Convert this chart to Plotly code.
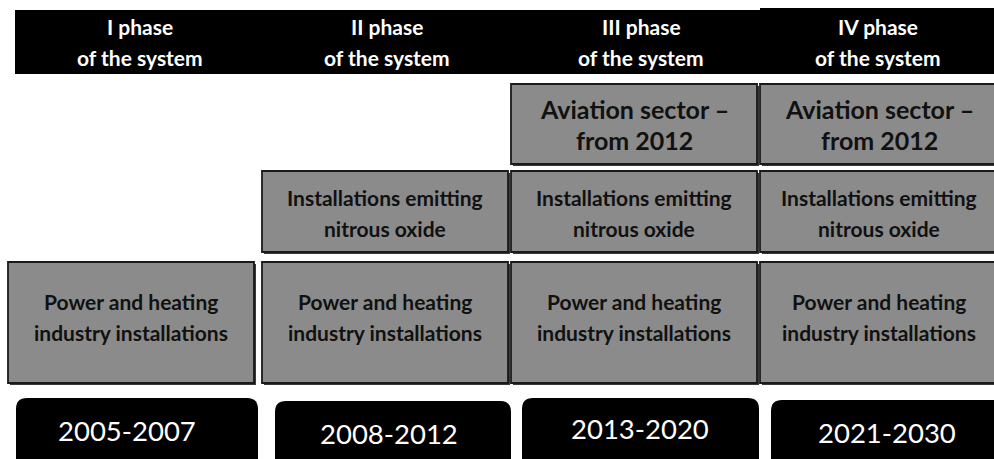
import plotly.graph_objects as go

# ---- data ----
phases = ["I phase", "II phase", "III phase", "IV phase"]
phase_sub = "of the system"
periods = ["2005-2007", "2008-2012", "2013-2020", "2021-2030"]
sectors = [
    "Power and heating<br>industry installations",
    "Installations emitting<br>nitrous oxide",
    "Aviation sector –<br>from 2012",
]
# first phase (index) in which each sector is covered
sector_start = [0, 1, 2]

# ---- layout geometry ----
W, H = 994, 459
col_x0 = [8, 262, 511, 760]
col_x1 = [254, 508, 757, 998]
row_y0 = [262, 171, 84]
row_y1 = [383, 252, 164]
row_font = [21, 21, 25]
row_gap = [31, 31, 31]
row_text_dy = [-6, 1.5, 0]
head_cx = [140, 387, 641, 878]
bot_x0 = [16, 275, 522, 771]
bot_x1 = [258, 511, 759, 1004]
bot_y0 = [398, 401, 398, 400]
year_cx = [127, 389, 640, 887]
year_cy = [430, 433, 428, 432]

FONT = "Lato, Carlito, Open Sans, sans-serif"
GRAY = "#8b8b8b"

fig = go.Figure()
shapes = []
ann = []

# header bars
shapes.append(dict(type="rect", x0=15, x1=760, y0=10, y1=74, fillcolor="black", line=dict(width=0), layer="above"))
shapes.append(dict(type="rect", x0=760, x1=998, y0=8, y1=74, fillcolor="black", line=dict(width=0), layer="above"))
for i, p in enumerate(phases):
    ann.append(dict(x=head_cx[i], y=26, text="<b>%s</b>" % p, font=dict(family=FONT, size=21, color="white")))
    ann.append(dict(x=head_cx[i], y=57, text="<b>%s</b>" % phase_sub, font=dict(family=FONT, size=21, color="white")))

# sector boxes
for r, s in enumerate(sectors):
    for c in range(sector_start[r], len(phases)):
        x0, x1, y0, y1 = col_x0[c], col_x1[c], row_y0[r], row_y1[r]
        shapes.append(dict(type="rect", x0=x0 + 2, x1=x1 + 2, y0=y0 + 2, y1=y1 + 2,
                           fillcolor="#3a3a3a", line=dict(width=0), layer="above"))
        shapes.append(dict(type="rect", x0=x0, x1=x1, y0=y0, y1=y1,
                           fillcolor=GRAY, line=dict(width=1.8, color="#1a1a1a"), layer="above"))
        lines = s.split("<br>")
        cy = (y0 + y1) / 2 + row_text_dy[r]
        n = len(lines)
        for k, t in enumerate(lines):
            yy = cy + (k - (n - 1) / 2) * row_gap[r]
            ann.append(dict(x=(x0 + x1) / 2, y=yy, text="<b>%s</b>" % t,
                            font=dict(family=FONT, size=row_font[r], color="#111111")))

# period boxes (rounded top corners)
rad = 11
for c, per in enumerate(periods):
    x0, x1, y0 = bot_x0[c], bot_x1[c], bot_y0[c]
    y1 = H + 20
    path = (f"M {x0},{y1} L {x0},{y0+rad} Q {x0},{y0} {x0+rad},{y0} "
            f"L {x1-rad},{y0} Q {x1},{y0} {x1},{y0+rad} L {x1},{y1} Z")
    shapes.append(dict(type="path", path=path, fillcolor="black", line=dict(width=0), layer="above"))
    ann.append(dict(x=year_cx[c], y=year_cy[c], text=per, font=dict(family=FONT, size=27.5, color="white")))

for a in ann:
    a.update(xref="x", yref="y", showarrow=False, xanchor="center", yanchor="middle")

fig.update_layout(
    width=W, height=H,
    margin=dict(l=0, r=0, t=0, b=0),
    paper_bgcolor="white", plot_bgcolor="white",
    xaxis=dict(range=[0, W], visible=False, fixedrange=True),
    yaxis=dict(range=[H, 0], visible=False, fixedrange=True),
    shapes=shapes, annotations=ann, showlegend=False,
)
fig.write_html("out.html", config={"displayModeBar": False})

# remove the default page margin so the figure fills the window
with open("out.html", encoding="utf-8") as f:
    html = f.read()
html = html.replace("<head>", "<head><style>html,body{margin:0;padding:0;overflow:hidden;}</style>", 1)
with open("out.html", "w", encoding="utf-8") as f:
    f.write(html)
